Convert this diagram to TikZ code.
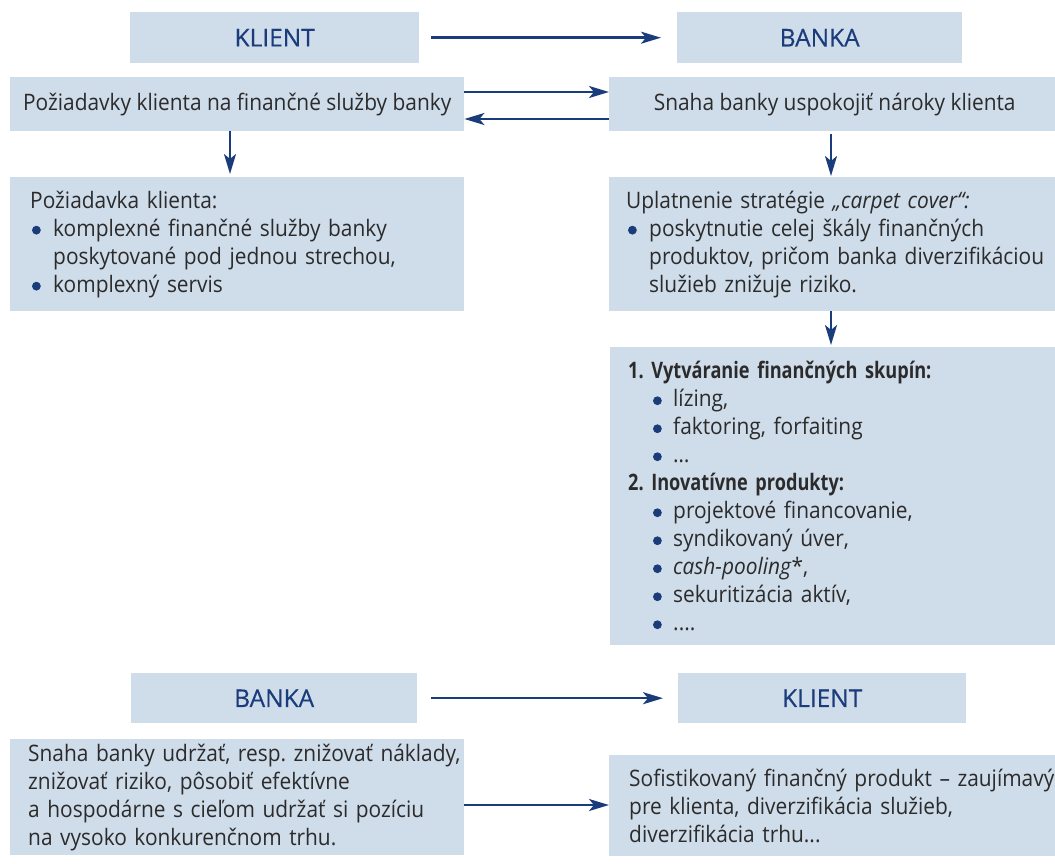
\documentclass[tikz,border=0pt]{standalone}
\usepackage{fontspec}
\setmainfont[FakeStretch=0.92]{Open Sans}
\newfontfamily\headf[FakeStretch=0.8]{Open Sans}
\newfontfamily\titlefam[FakeBold=0.4]{Open Sans}
\usetikzlibrary{arrows.meta,calc}
\definecolor{boxc}{HTML}{CFDCEA}
\definecolor{navy}{HTML}{1B3C7B}
\definecolor{txt}{HTML}{2B2B2B}
\frenchspacing
\newcommand\bodyf{\fontsize{22.7}{28}\selectfont}
\newcommand\titlef{\titlefam\fontsize{24.5}{28}\selectfont}
\newcommand\bdot{\tikz[baseline=0pt,x=1pt,y=1pt]\fill[navy](0,6) circle (4.4);}
\newcommand\bi{\makebox[23pt][l]{\hspace*{1.8pt}\bdot}}
\newcommand\bj{\makebox[45pt][l]{\hspace*{24.8pt}\bdot}}
\tikzset{
  box/.style={fill=boxc, anchor=north west, inner ysep=0pt, text=txt, font=\bodyf},
  titlebox/.style={fill=boxc, anchor=north west, inner sep=0pt, text=navy, font=\titlef, align=center},
  arr/.style={draw=navy, line width=2.4pt, -{Stealth[length=20pt,width=12pt,inset=5pt]}},
}
\begin{document}
\begin{tikzpicture}[x=1pt,y=-1pt]
\useasboundingbox (0,0) rectangle (1055,864);
% top row
\node[titlebox, minimum width=289pt, minimum height=51pt] (k1) at (130,12) {KLIENT};
\node[titlebox, minimum width=285pt, minimum height=51pt] (b1) at (677,12) {BANKA};
\draw[arr, shorten <=12pt, shorten >=16pt] (k1) -- (b1);
% second row
\node[box, inner xsep=0pt, minimum width=454pt, minimum height=54pt, align=center] (req) at (10,77) {Požiadavky klienta na finančné služby banky};
\node[box, inner xsep=0pt, minimum width=451pt, minimum height=54pt, align=center] (sna) at (609,77) {Snaha banky uspokojiť nároky klienta};
\draw[arr] ($(req.north east)+(0,15)$) -- ($(sna.north west)+(0,15)$);
\draw[arr] ($(sna.north west)+(0,42)$) -- ($(req.north east)+(0,42)$);
% third row
\node[box, inner xsep=20pt, text width=414pt, minimum height=134pt, align=left] (lb) at (10,177)
 {Požiadavka klienta:\\
  \bi komplexné finančné služby banky\\
  \hspace*{23pt}poskytované pod jednou strechou,\\
  \bi komplexný servis};
\node[box, inner xsep=17pt, text width=430pt, minimum height=134pt, align=left] (rb) at (609,177)
 {Uplatnenie stratégie \textit{„carpet cover“:}\\
  \bi poskytnutie celej škály finančných\\
  \hspace*{23pt}\mbox{produktov, pričom banka diverzifikáciou}\\
  \hspace*{23pt}služieb znižuje riziko.};
\draw[arr, shorten <=0pt, shorten >=3pt] ($(req.south west)+(220,0)$) -- ($(lb.north west)+(220,0)$);
\draw[arr, shorten <=3pt, shorten >=1pt] ($(sna.south west)+(222,0)$) -- ($(rb.north west)+(222,0)$);
% box 3
\node[box, inner xsep=18pt, text width=430pt, minimum height=298pt, align=left] (b3) at (610,347)
 {{\headf\bfseries 1. Vytváranie finančných skupín:}\\
  \bj lízing,\\
  \bj faktoring, forfaiting\\
  \bj …\\
  {\headf\bfseries 2. Inovatívne produkty:}\\
  \bj projektové financovanie,\\
  \bj syndikovaný úver,\\
  \bj \textit{cash-pooling}*,\\
  \bj sekuritizácia aktív,\\
  \bj ....};
\draw[arr, shorten >=2pt] ($(rb.south west)+(222,0)$) -- ($(b3.north west)+(221,0)$);
% bottom rows
\node[titlebox, minimum width=286pt, minimum height=50pt] (b2) at (131,673) {BANKA};
\node[titlebox, minimum width=288pt, minimum height=50pt] (k2) at (678,673) {KLIENT};
\draw[arr, shorten <=14pt, shorten >=15pt] (b2) -- (k2);
\node[box, inner xsep=18pt, text width=418pt, minimum height=116pt, align=left] (bl) at (10,739)
 {\mbox{Snaha banky udržať, resp. znižovať náklady,}\\
  znižovať riziko, pôsobiť efektívne\\
  a hospodárne s cieľom udržať si pozíciu\\
  na vysoko konkurenčnom trhu.};
\node[box, inner xsep=20pt, text width=440pt, minimum height=101pt, align=left] (br) at (609,755)
 {\mbox{Sofistikovaný finančný produkt – zaujímavý}\\
  pre klienta, diverzifikácia služieb,\\
  diverzifikácia trhu...};
\draw[arr] ($(bl.north east)+(0,66)$) -- ($(br.north west)+(0,50)$);
\end{tikzpicture}
\end{document}
